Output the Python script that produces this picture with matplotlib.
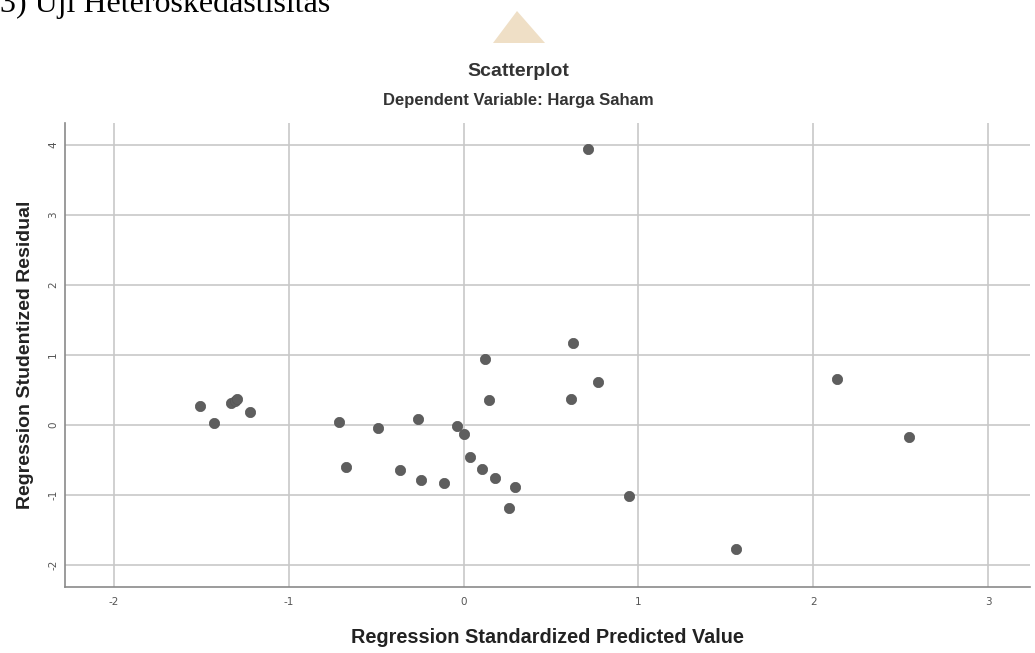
import matplotlib
matplotlib.use("Agg")
import matplotlib.pyplot as plt
from matplotlib.patches import Polygon

# ---- data ----
pred = [-1.507, -1.427, -1.33, -1.31, -1.297, -1.221, -0.711, -0.673, -0.49,
        -0.263, -0.362, -0.244, -0.11, -0.038, 0.0, 0.143, 0.038, 0.103, 0.18,
        0.294, 0.262, 0.617, 0.771, 0.947, 0.712, 0.624, 0.124, 2.137, 2.547,
        1.561]
resid = [0.27, 0.03, 0.32, 0.35, 0.37, 0.19, 0.05, -0.60, -0.04,
         0.08, -0.64, -0.79, -0.83, -0.02, -0.13, 0.36, -0.45, -0.63, -0.76,
         -0.88, -1.18, 0.37, 0.61, -1.01, 3.94, 1.17, 0.94, 0.66, -0.17,
         -1.77]
xticks = [-2, -1, 0, 1, 2, 3]
yticks = [-2, -1, 0, 1, 2, 3, 4]

fig = plt.figure(figsize=(10.35, 6.53), dpi=100)
ax = fig.add_axes([65/1035, 1-587/653, (1030-65)/1035, (587-123)/653])

ax.set_xlim(-2.28, 3.24)
ax.set_ylim(-2.31, 4.31)
ax.set_xticks(xticks)
ax.set_yticks(yticks)
ax.set_xticklabels([str(v) for v in xticks])
ax.set_yticklabels([str(v) for v in yticks])
ax.grid(True, color="#c8c8c8", linewidth=1.2)
ax.set_axisbelow(True)
for s in ["top", "right"]:
    ax.spines[s].set_visible(False)
for s in ["left", "bottom"]:
    ax.spines[s].set_color("#8a8a8a")
    ax.spines[s].set_linewidth(1.2)
ax.tick_params(axis="both", length=0, labelsize=7.5, labelcolor="#555555")
ax.tick_params(axis="x", pad=7)
ax.tick_params(axis="y", pad=5, labelrotation=90)
for t in ax.get_yticklabels():
    t.set_va("center")

ax.scatter(pred, resid, s=55, color="#5e5e5e", edgecolors="#555555",
           linewidths=0.5, zorder=3)

ax.set_xlabel("Regression Standardized Predicted Value", fontsize=14.3,
              fontweight="bold", color="#222222", family="Liberation Sans",
              labelpad=15)
ax.set_ylabel("Regression Studentized Residual", fontsize=14,
              fontweight="bold", color="#222222", family="Liberation Sans",
              labelpad=10)

fig.text(518/1035, 1-71/653, "Scatterplot", ha="center", va="center",
         fontsize=14, fontweight="bold", color="#333333",
         family="Liberation Sans")
fig.text(518/1035, 1-101/653, "Dependent Variable: Harga Saham", ha="center",
         va="center", fontsize=12, fontweight="bold", color="#333333",
         family="Liberation Sans")

fig.text(0, 1-12/653, "3) Uji Heteroskedastisitas", ha="left",
         va="baseline", fontsize=23, color="black",
         family="Liberation Serif")

tri = Polygon([[493/1035, 1-43/653], [545/1035, 1-43/653],
               [517/1035, 1-11/653]], closed=True,
              transform=fig.transFigure, facecolor="#efdfc6",
              edgecolor="none")
fig.patches.append(tri)

fig.savefig("out.png", dpi=100)
